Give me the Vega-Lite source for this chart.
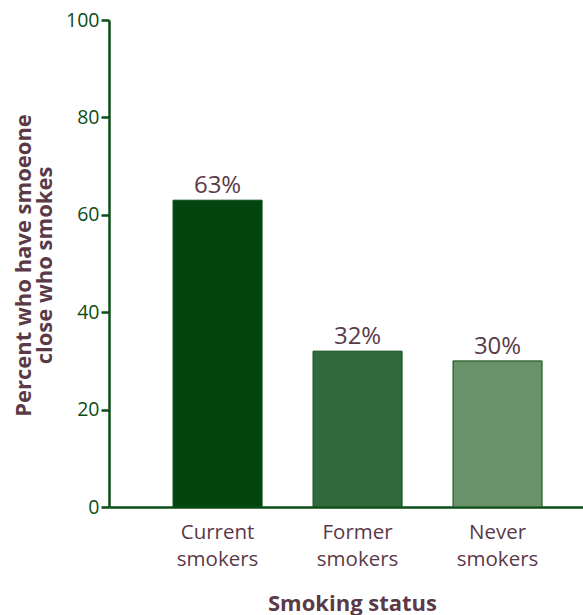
{
  "$schema": "https://vega.github.io/schema/vega-lite/v6.json",
  "width": 474,
  "height": 487,
  "autosize": "none",
  "padding": {"left": 109, "top": 20, "right": 0, "bottom": 108},
  "background": "white",
  "config": {"view": {"stroke": null}, "font": "Open Sans"},
  "data": {"values": [
    {"status": "Current smokers", "pct": 63, "label": "63%"},
    {"status": "Former smokers", "pct": 32, "label": "32%"},
    {"status": "Never smokers", "pct": 30, "label": "30%"}
  ]},
  "encoding": {
    "x": {
      "field": "status", "type": "nominal", "sort": null,
      "scale": {"paddingInner": 0.364, "paddingOuter": 0.375, "align": 0.61},
      "axis": {
        "title": "Smoking status",
        "titleFontSize": 22, "titleFontWeight": "bold", "titleColor": "#5b3a47",
        "titleY": 96, "titleX": 243, "titleBaseline": "middle",
        "labelAngle": 0, "labelFontSize": 20.5, "labelColor": "#5b3a47",
        "labelExpr": "split(datum.label, ' ')", "labelLineHeight": 27,
        "labelPadding": 15, "labelBaseline": "top",
        "ticks": false, "domainColor": "#0b4d16", "domainWidth": 2.5, "grid": false
      }
    },
    "y": {
      "field": "pct", "type": "quantitative",
      "scale": {"domain": [0, 100], "nice": false},
      "axis": {
        "title": ["Percent who have smoeone", "close who smokes"],
        "titleFontSize": 22, "titleFontWeight": "bold", "titleColor": "#5b3a47",
        "titleAngle": -90, "titleX": -86, "titleY": 245, "titleBaseline": "middle", "titleAlign": "center",
        "titleLineHeight": 21,
        "values": [0, 20, 40, 60, 80, 100],
        "labelFontSize": 19.5, "labelColor": "#0b4d16", "labelPadding": 2,
        "tickColor": "#0b4d16", "tickWidth": 2.5, "tickSize": 8,
        "domainColor": "#0b4d16", "domainWidth": 2.5, "grid": false
      }
    }
  },
  "layer": [
    {
      "mark": {"type": "bar", "stroke": "#0b4d16", "strokeWidth": 1},
      "encoding": {
        "color": {
          "field": "status", "type": "nominal", "legend": null,
          "scale": {"domain": ["Current smokers", "Former smokers", "Never smokers"], "range": ["#02450f", "#30693b", "#6a926a"]}
        }
      }
    },
    {
      "mark": {"type": "text", "baseline": "bottom", "dy": -2, "fontSize": 24, "color": "#5b3a47"},
      "encoding": {"text": {"field": "label"}}
    }
  ]
}
